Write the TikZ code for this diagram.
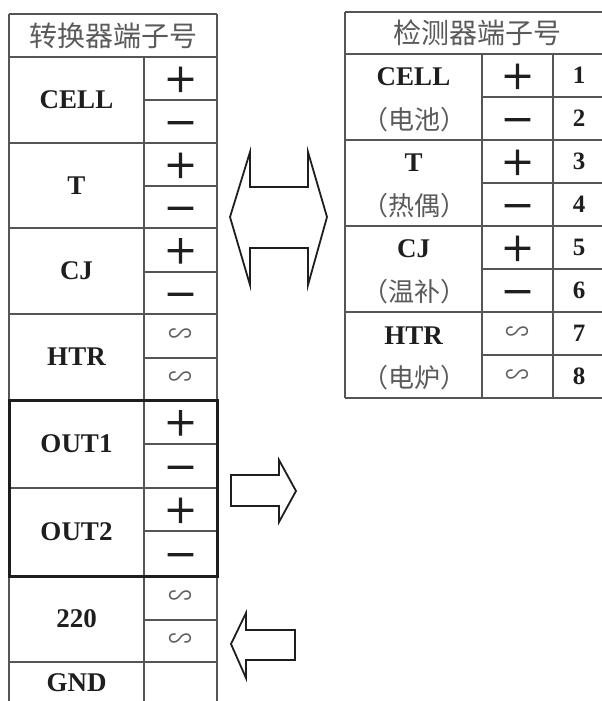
\documentclass[tikz,border=0pt]{standalone}
\usepackage{fontspec}
\setmainfont{Liberation Serif}
\newfontfamily\cjk{Noto Sans CJK SC}
\newfontfamily\cjkpm{Noto Sans CJK SC}[FakeBold=2.5]
\definecolor{linegray}{HTML}{555555}
\definecolor{txtdark}{HTML}{1E1E1E}
\definecolor{cngray}{HTML}{5A5A5A}
\definecolor{acgray}{HTML}{5E5E5E}
\tikzset{
  grid/.style={draw=linegray, line width=1.3pt},
  outbox/.style={draw=txtdark, line width=3pt},
  lbl/.style={font=\bfseries\fontsize{27}{30}\selectfont, text=txtdark, inner sep=0pt},
  num/.style={font=\bfseries\fontsize{25}{28}\selectfont, text=txtdark, inner sep=0pt},
  cnhead/.style={font=\cjk\fontsize{28}{30}\selectfont, text=cngray, inner sep=0pt},
  cnsub/.style={font=\cjk\fontsize{26}{28}\selectfont, text=cngray, inner sep=0pt},
  pm/.style={font=\cjkpm\fontsize{34}{34}\selectfont, text=txtdark, inner sep=0pt},
  pmm/.style={pm, yshift=-7pt},
  ac/.style={font=\cjk\fontsize{24}{24}\selectfont, text=acgray, inner sep=0pt},
  bigarrow/.style={draw=txtdark, line width=1.8pt, line join=miter, fill=white}
}
\begin{document}
\begin{tikzpicture}[x=1pt,y=-1pt]
\useasboundingbox (0,0) rectangle (602,701);
% ---------- left table ----------
\foreach \yy in {14,57,143,228,314,400,488,576,662} \draw[grid] (9,\yy) -- (217,\yy);
\foreach \yy in {100,186,272,358,444,531,620} \draw[grid] (144,\yy) -- (217,\yy);
\draw[grid] (9,14) -- (9,701);
\draw[grid] (217,14) -- (217,701);
\draw[grid] (144,57) -- (144,701);
\draw[outbox] (9,400) rectangle (217,576);
\node[cnhead] (lhead) at (113,36) {转换器端子号};
\node[lbl] (lcell) at (76.5,100) {CELL};
\node[lbl] (lt) at (76.5,186) {T};
\node[lbl] (lcj) at (76.5,271) {CJ};
\node[lbl] (lhtr) at (76.5,357) {HTR};
\node[lbl] (lout1) at (76.5,444) {OUT1};
\node[lbl] (lout2) at (76.5,532) {OUT2};
\node[lbl] (l220) at (76.5,619) {220};
\node[lbl] (lgnd) at (76.5,683) {GND};
\node[pm] (lp1) at (180.5,79.5) {＋};
\node[pmm] (lm1) at (180.5,121.5) {－};
\node[pm] (lp2) at (180.5,165.5) {＋};
\node[pmm] (lm2) at (180.5,207) {－};
\node[pm] (lp3) at (180.5,251) {＋};
\node[pmm] (lm3) at (180.5,293) {－};
\node[ac] (la1) at (180.5,336) {∽};
\node[ac] (la2) at (180.5,379) {∽};
\node[pm] (lp4) at (180.5,423) {＋};
\node[pmm] (lm4) at (180.5,466) {－};
\node[pm] (lp5) at (180.5,510.5) {＋};
\node[pmm] (lm5) at (180.5,553.5) {－};
\node[ac] (la3) at (180.5,598) {∽};
\node[ac] (la4) at (180.5,641) {∽};
% ---------- right table ----------
\foreach \yy in {12,54,140,226,312,398} \draw[grid] (345,\yy) -- (602,\yy);
\foreach \yy in {97,183,269,355} \draw[grid] (482,\yy) -- (602,\yy);
\draw[grid] (345,12) -- (345,398);
\draw[grid] (482,54) -- (482,398);
\draw[grid] (553,54) -- (553,398);
\node[cnhead] (rhead) at (477,33) {检测器端子号};
\node[lbl] (rcell) at (413.5,77) {CELL};
\node[cnsub] (rcellc) at (414,120) {（电池）};
\node[lbl] (rt) at (413.5,163) {T};
\node[cnsub] (rtc) at (414,206) {（热偶）};
\node[lbl] (rcj) at (413.5,249) {CJ};
\node[cnsub] (rcjc) at (414,292) {（温补）};
\node[lbl] (rhtr) at (413.5,336) {HTR};
\node[cnsub] (rhtrc) at (414,378) {（电炉）};
\node[pm] (rp1) at (517.5,76.5) {＋};
\node[pmm] (rm1) at (517.5,118.5) {－};
\node[pm] (rp2) at (517.5,162.5) {＋};
\node[pmm] (rm2) at (517.5,204.5) {－};
\node[pm] (rp3) at (517.5,248.5) {＋};
\node[pmm] (rm3) at (517.5,290.5) {－};
\node[ac] (ra1) at (517.5,333.5) {∽};
\node[ac] (ra2) at (517.5,376.5) {∽};
\foreach \n/\yy in {1/75.5,2/118.5,3/161.5,4/204.5,5/247.5,6/290.5,7/333.5,8/376.5}
  \node[num] (rn\n) at (579,\yy) {\n};
% ---------- arrows ----------
\draw[bigarrow] (230,217) -- (250,152) -- (250,187) -- (308,187) -- (308,152)
  -- (327,217) -- (308,285) -- (308,248) -- (250,248) -- (250,285) -- cycle;
\draw[bigarrow] (231,475) -- (279,475) -- (279,460) -- (296,491) -- (279,522)
  -- (279,506) -- (231,506) -- cycle;
\draw[bigarrow] (231,644) -- (246,613) -- (246,630) -- (295,630) -- (295,660)
  -- (246,660) -- (246,678) -- cycle;
\end{tikzpicture}
\end{document}
